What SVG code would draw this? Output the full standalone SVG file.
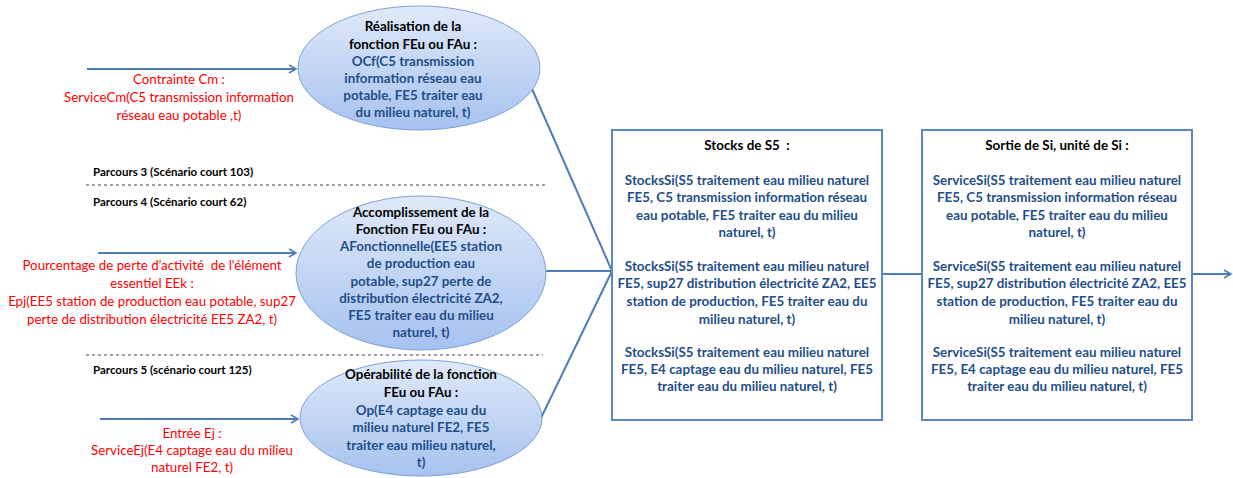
<svg xmlns="http://www.w3.org/2000/svg" width="1233" height="478" viewBox="0 0 1233 478">
<style>
.t{font-family:Lato,"Liberation Sans",sans-serif;font-weight:bold;font-size:13.4px;text-anchor:middle}
.k{fill:#000}
.b{fill:#1f4e89}
.r{font-family:Lato,"Liberation Sans",sans-serif;font-size:13.3px;fill:#ff0000;text-anchor:middle}
.p{font-family:Lato,"Liberation Sans",sans-serif;font-weight:bold;font-size:11.5px;fill:#000}
.ell{fill:url(#g);stroke:#7ea1d3;stroke-width:1}
.box{fill:#fff;stroke:#5b87c2;stroke-width:2}
.ln{stroke:#4f7cb8;stroke-width:2;fill:none}
.dash{stroke:#444;stroke-width:1;stroke-dasharray:3,3}
</style>
<defs>
<linearGradient id="g" x1="0" y1="0" x2="0" y2="1">
<stop offset="0" stop-color="#dfe9f9"/>
<stop offset="1" stop-color="#a6c2ef"/>
</linearGradient>
<marker id="a" markerWidth="10" markerHeight="10" refX="8" refY="5" orient="auto" markerUnits="userSpaceOnUse">
<path d="M1,1 L8,5 L1,9" fill="none" stroke="#4f7cb8" stroke-width="1.6"/>
</marker>
</defs>
<g id="separators">
<line class="dash" x1="86" y1="185" x2="547" y2="185"/>
<line class="dash" x1="86" y1="355" x2="543" y2="355"/>
<text class="p" x="93" y="176">Parcours 3 (Scénario court 103)</text>
<text class="p" x="93" y="206">Parcours 4 (Scénario court 62)</text>
<text class="p" x="93" y="374">Parcours 5 (scénario court 125)</text>
</g>
<g id="connectors">
<line class="ln" x1="87" y1="69" x2="296" y2="69" marker-end="url(#a)"/>
<line class="ln" x1="98" y1="253" x2="296" y2="253" marker-end="url(#a)"/>
<line class="ln" x1="100" y1="419" x2="298" y2="419" marker-end="url(#a)"/>
<line class="ln" x1="525" y1="73" x2="612" y2="271"/>
<line class="ln" x1="546" y1="271" x2="612" y2="271"/>
<line class="ln" x1="541" y1="418" x2="612" y2="271"/>
<line class="ln" x1="882" y1="274" x2="922" y2="274"/>
<line class="ln" x1="1192" y1="274" x2="1231" y2="274" marker-end="url(#a)"/>
</g>
<g id="input-cm">
<text class="r"><tspan x="179" y="84">Contrainte Cm :</tspan><tspan x="179" y="102">ServiceCm(C5 transmission information</tspan><tspan x="179" y="120">réseau eau potable ,t)</tspan></text>
</g>
<g id="input-epj">
<text class="r"><tspan x="152" y="270">Pourcentage de perte d’activité&#160; de l'élément</tspan><tspan x="152" y="288">essentiel EEk :</tspan><tspan x="152" y="306">Epj(EE5 station de production eau potable, sup27</tspan><tspan x="152" y="324">perte de distribution électricité EE5 ZA2, t)</tspan></text>
</g>
<g id="input-ej">
<text class="r"><tspan x="192" y="438">Entrée Ej :</tspan><tspan x="192" y="455">ServiceEj(E4 captage eau du milieu</tspan><tspan x="192" y="472">naturel FE2, t)</tspan></text>
</g>
<g id="node-realisation">
<ellipse class="ell" cx="419" cy="68" rx="121" ry="62"/>
<text class="t k"><tspan x="413" y="31">Réalisation de la</tspan><tspan x="413" y="49">fonction FEu ou FAu :</tspan></text>
<text class="t b"><tspan x="413" y="66">OCf(C5 transmission</tspan><tspan x="413" y="83">information réseau eau</tspan><tspan x="413" y="100">potable, FE5 traiter eau</tspan><tspan x="413" y="117">du milieu naturel, t)</tspan></text>
</g>
<g id="node-accomplissement">
<ellipse class="ell" cx="421" cy="273" rx="125" ry="77"/>
<text class="t k"><tspan x="421" y="217">Accomplissement de la</tspan><tspan x="421" y="234">Fonction FEu ou FAu :</tspan></text>
<text class="t b"><tspan x="421" y="251">AFonctionnelle(EE5 station</tspan><tspan x="421" y="268">de production eau</tspan><tspan x="421" y="286">potable, sup27 perte de</tspan><tspan x="421" y="303">distribution électricité ZA2,</tspan><tspan x="421" y="320">FE5 traiter eau du milieu</tspan><tspan x="421" y="337">naturel, t)</tspan></text>
</g>
<g id="node-operabilite">
<ellipse class="ell" cx="421" cy="418" rx="121" ry="58"/>
<text class="t k"><tspan x="421" y="379">Opérabilité de la fonction</tspan><tspan x="421" y="397">FEu ou FAu :</tspan></text>
<text class="t b"><tspan x="421" y="415">Op(E4 captage eau du</tspan><tspan x="421" y="432">milieu naturel FE2, FE5</tspan><tspan x="421" y="450">traiter eau milieu naturel,</tspan><tspan x="421" y="467">t)</tspan></text>
</g>
<g id="node-stocks">
<rect class="box" x="612" y="130" width="270" height="290"/>
<text class="t k" x="747" y="150">Stocks de S5&#160; :</text>
<text class="t b"><tspan x="747" y="185">StocksSi(S5 traitement eau milieu naturel</tspan><tspan x="747" y="202">FE5, C5 transmission information réseau</tspan><tspan x="747" y="220">eau potable, FE5 traiter eau du milieu</tspan><tspan x="747" y="237">naturel, t)</tspan><tspan x="747" y="271">StocksSi(S5 traitement eau milieu naturel</tspan><tspan x="747" y="288">FE5, sup27 distribution électricité ZA2, EE5</tspan><tspan x="747" y="306">station de production, FE5 traiter eau du</tspan><tspan x="747" y="324">milieu naturel, t)</tspan><tspan x="747" y="357">StocksSi(S5 traitement eau milieu naturel</tspan><tspan x="747" y="374">FE5, E4 captage eau du milieu naturel, FE5</tspan><tspan x="747" y="391">traiter eau du milieu naturel, t)</tspan></text>
</g>
<g id="node-sortie">
<rect class="box" x="922" y="130" width="270" height="290"/>
<text class="t k" x="1057" y="150">Sortie de Si, unité de Si :</text>
<text class="t b"><tspan x="1057" y="185">ServiceSi(S5 traitement eau milieu naturel</tspan><tspan x="1057" y="202">FE5, C5 transmission information réseau</tspan><tspan x="1057" y="220">eau potable, FE5 traiter eau du milieu</tspan><tspan x="1057" y="237">naturel, t)</tspan><tspan x="1057" y="271">ServiceSi(S5 traitement eau milieu naturel</tspan><tspan x="1057" y="288">FE5, sup27 distribution électricité ZA2, EE5</tspan><tspan x="1057" y="306">station de production, FE5 traiter eau du</tspan><tspan x="1057" y="324">milieu naturel, t)</tspan><tspan x="1057" y="357">ServiceSi(S5 traitement eau milieu naturel</tspan><tspan x="1057" y="374">FE5, E4 captage eau du milieu naturel, FE5</tspan><tspan x="1057" y="391">traiter eau du milieu naturel, t)</tspan></text>
</g>
</svg>
